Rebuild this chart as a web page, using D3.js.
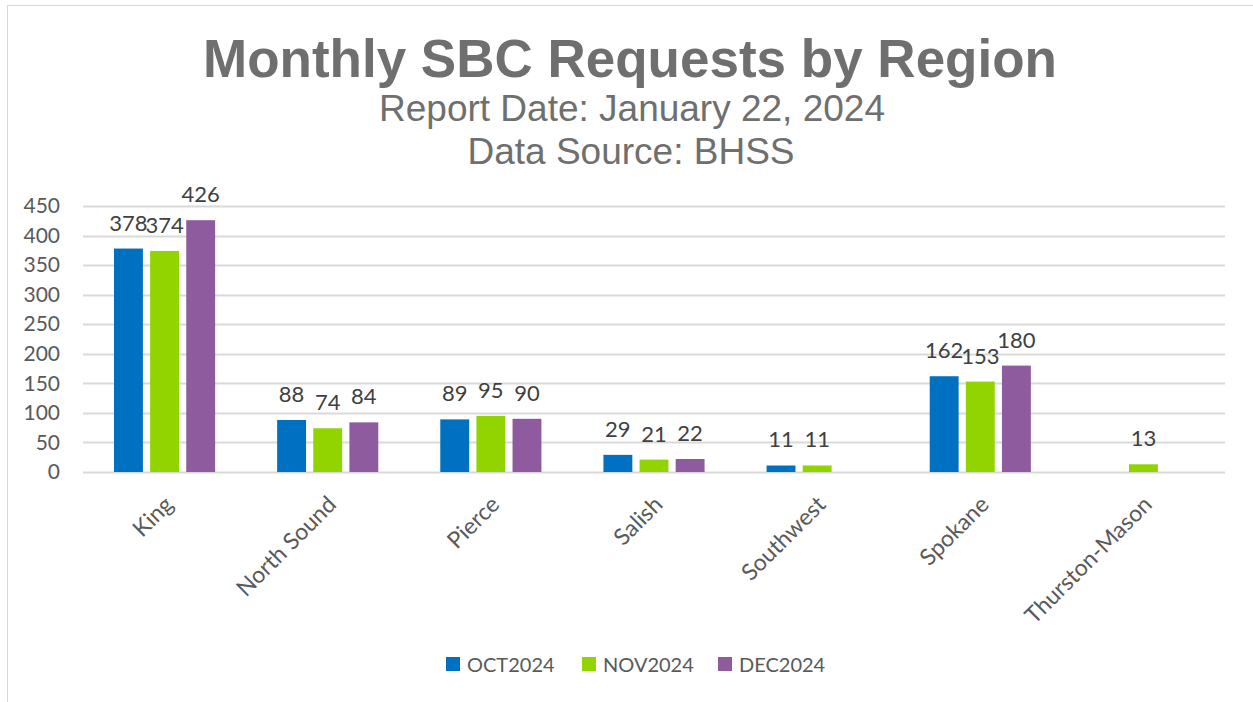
<!DOCTYPE html>
<html>
<head>
<meta charset="utf-8">
<script src="https://cdn.jsdelivr.net/npm/d3@7"></script>
<style>
  body { margin: 0; background: #fff; }
</style>
</head>
<body>
<svg id="chart" width="1253" height="702"></svg>
<script>
// chart data
var regions = ["King", "North Sound", "Pierce", "Salish", "Southwest", "Spokane", "Thurston-Mason"];
var seriesNames = ["OCT2024", "NOV2024", "DEC2024"];
var oct2024 = [378, 88, 89, 29, 11, 162, null];
var nov2024 = [374, 74, 95, 21, 11, 153, 13];
var dec2024 = [426, 84, 90, 22, null, 180, null];
var yTicks = [0, 50, 100, 150, 200, 250, 300, 350, 400, 450];
var colors = ["#0070c0", "#92d400", "#8e5c9e"];

var series = [oct2024, nov2024, dec2024];

var svg = d3.select("#chart");

// outer frame of the chart
svg.append("rect")
    .attr("x", 7.5)
    .attr("y", 5.5)
    .attr("width", 1260)
    .attr("height", 700)
    .attr("fill", "#fff")
    .attr("stroke", "#d9d9d9");

// Titles
svg.append("text")
    .attr("x", 630)
    .attr("y", 77)
    .attr("text-anchor", "middle")
    .style("font-family", "Liberation Sans, Arial, sans-serif")
    .style("font-weight", "bold")
    .style("font-size", "53px")
    .attr("fill", "#6f6f6f")
    .text("Monthly SBC Requests by Region");

svg.append("text")
    .attr("x", 632)
    .attr("y", 121)
    .attr("text-anchor", "middle")
    .style("font-family", "Liberation Sans, Arial, sans-serif")
    .style("font-size", "37px")
    .attr("fill", "#6f6f6f")
    .text("Report Date: January 22, 2024");

svg.append("text")
    .attr("x", 631)
    .attr("y", 164)
    .attr("text-anchor", "middle")
    .style("font-family", "Liberation Sans, Arial, sans-serif")
    .style("font-size", "37px")
    .attr("fill", "#6f6f6f")
    .text("Data Source: BHSS");

// scales
var x = d3.scaleBand()
    .domain(regions)
    .range([83, 1225]);

var xInner = d3.scaleBand()
    .domain(seriesNames)
    .range([x.bandwidth() * 0.19, x.bandwidth() * 0.81])
    .paddingInner(0.2);

var y = d3.scaleLinear()
    .domain([0, 450])
    .range([472, 206]);

var labelFont = "Lato, 'Noto Sans', sans-serif";

// gridlines
svg.append("g")
    .selectAll("line")
    .data(yTicks)
    .enter()
    .append("line")
    .attr("x1", 83)
    .attr("x2", 1225)
    .attr("y1", d => Math.round(y(d)) + 0.5)
    .attr("y2", d => Math.round(y(d)) + 0.5)
    .attr("stroke", "#d9d9d9")
    .attr("stroke-width", 2);

// y axis
var yAxis = svg.append("g")
    .attr("transform", "translate(83,0)")
    .call(d3.axisLeft(y).tickValues(yTicks).tickSize(0).tickPadding(23));
yAxis.select(".domain").remove();
yAxis.selectAll("text")
    .style("font-family", labelFont)
    .style("font-size", "21px")
    .attr("fill", "#595959")
    .attr("text-anchor", "end");

// bars
series.forEach(function(values, i) {
    var points = regions.map((r, j) => ({ region: r, value: values[j] }))
        .filter(d => d.value != null);
    var g = svg.append("g");
    g.selectAll("rect")
        .data(points)
        .enter()
        .append("rect")
        .attr("x", d => x(d.region) + xInner(seriesNames[i]))
        .attr("y", d => y(d.value))
        .attr("width", xInner.bandwidth())
        .attr("height", d => y(0) - y(d.value))
        .attr("fill", colors[i]);
    g.selectAll("text")
        .data(points)
        .enter()
        .append("text")
        .attr("x", d => x(d.region) + xInner(seriesNames[i]) + xInner.bandwidth() / 2)
        .attr("y", d => y(d.value) - 18)
        .attr("text-anchor", "middle")
        .style("font-family", labelFont)
        .style("font-size", "22px")
        .attr("fill", "#404040")
        .text(d => d.value);
});

// x axis
var xAxis = svg.append("g")
    .attr("transform", "translate(0,472)")
    .call(d3.axisBottom(x).tickSize(0).tickPadding(0));
xAxis.select(".domain").remove();
xAxis.selectAll("text")
    .style("font-family", labelFont)
    .style("font-size", "23px")
    .attr("fill", "#595959")
    .attr("text-anchor", "end")
    .attr("dy", "0")
    .attr("transform", "translate(10,34) rotate(-45)");

// legend
var legendX = [446, 582, 718];
var legend = svg.append("g");
seriesNames.forEach(function(name, i) {
    legend.append("rect")
        .attr("x", legendX[i])
        .attr("y", 657)
        .attr("width", 14)
        .attr("height", 14)
        .attr("fill", colors[i]);
    legend.append("text")
        .attr("x", legendX[i] + 21)
        .attr("y", 672)
        .style("font-family", labelFont)
        .style("font-size", "20px")
        .attr("fill", "#595959")
        .text(name);
});
</script>
</body>
</html>
